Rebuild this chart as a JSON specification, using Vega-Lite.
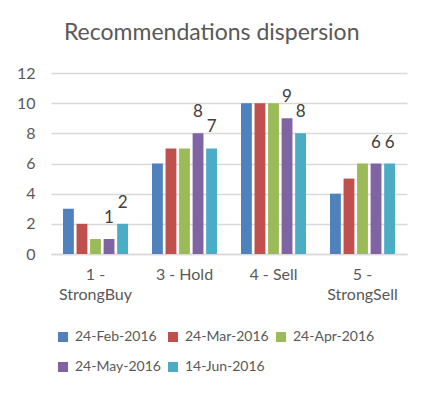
{
  "$schema": "https://vega.github.io/schema/vega-lite/v6.json",
  "width": 356,
  "height": 181,
  "autosize": {"type": "none"},
  "padding": {"left": 51, "top": 73, "right": 23, "bottom": 142},
  "background": "white",
  "title": {"text": "Recommendations dispersion", "fontSize": 23, "font": "Lato", "fontWeight": "normal", "color": "#595959", "offset": 20, "anchor": "middle", "frame": "bounds"},
  "data": {"values": [
    {"category": "1 - StrongBuy", "date": "24-Feb-2016", "value": 3},
    {"category": "1 - StrongBuy", "date": "24-Mar-2016", "value": 2},
    {"category": "1 - StrongBuy", "date": "24-Apr-2016", "value": 1},
    {"category": "1 - StrongBuy", "date": "24-May-2016", "value": 1},
    {"category": "1 - StrongBuy", "date": "14-Jun-2016", "value": 2},
    {"category": "3 - Hold", "date": "24-Feb-2016", "value": 6},
    {"category": "3 - Hold", "date": "24-Mar-2016", "value": 7},
    {"category": "3 - Hold", "date": "24-Apr-2016", "value": 7},
    {"category": "3 - Hold", "date": "24-May-2016", "value": 8},
    {"category": "3 - Hold", "date": "14-Jun-2016", "value": 7},
    {"category": "4 - Sell", "date": "24-Feb-2016", "value": 10},
    {"category": "4 - Sell", "date": "24-Mar-2016", "value": 10},
    {"category": "4 - Sell", "date": "24-Apr-2016", "value": 10},
    {"category": "4 - Sell", "date": "24-May-2016", "value": 9},
    {"category": "4 - Sell", "date": "14-Jun-2016", "value": 8},
    {"category": "5 - StrongSell", "date": "24-Feb-2016", "value": 4},
    {"category": "5 - StrongSell", "date": "24-Mar-2016", "value": 5},
    {"category": "5 - StrongSell", "date": "24-Apr-2016", "value": 6},
    {"category": "5 - StrongSell", "date": "24-May-2016", "value": 6},
    {"category": "5 - StrongSell", "date": "14-Jun-2016", "value": 6}
  ]},
  "encoding": {
    "x": {
      "field": "category", "type": "nominal", "sort": null,
      "scale": {"paddingInner": 0.27, "paddingOuter": 0.135},
      "axis": {
        "title": null, "labelAngle": 0, "ticks": false, "domain": true,
        "domainColor": "#D9D9D9", "domainWidth": 1.5, "labelPadding": 12,
        "labelFont": "Lato", "labelFontSize": 16, "labelColor": "#595959", "labelLineHeight": 20,
        "labelExpr": "test(/Strong/, datum.label) ? [substring(datum.label, 0, 3), substring(datum.label, 4)] : datum.label"
      }
    },
    "xOffset": {
      "field": "date", "type": "nominal",
      "scale": {"domain": ["24-Feb-2016", "24-Mar-2016", "24-Apr-2016", "24-May-2016", "14-Jun-2016"], "paddingInner": 0.2, "paddingOuter": 0}
    },
    "y": {
      "field": "value", "type": "quantitative",
      "scale": {"domain": [0, 12]},
      "axis": {
        "title": null, "values": [0, 2, 4, 6, 8, 10, 12], "domain": false, "ticks": false,
        "gridColor": "#D9D9D9", "gridWidth": 1.5, "labelPadding": 16,
        "labelFont": "Lato", "labelFontSize": 16, "labelColor": "#595959"
      }
    }
  },
  "layer": [
    {
      "mark": {"type": "bar"},
      "encoding": {
        "color": {
          "field": "date", "type": "nominal",
          "scale": {
            "domain": ["24-Feb-2016", "24-Mar-2016", "24-Apr-2016", "24-May-2016", "14-Jun-2016"],
            "range": ["#4F81BD", "#C0504D", "#9BBB59", "#8064A2", "#4BACC6"]
          },
          "legend": {
            "title": null, "orient": "bottom", "direction": "horizontal", "columns": 3,
            "symbolType": "square", "symbolSize": 100, "symbolStrokeWidth": 0,
            "labelFont": "Lato", "labelFontSize": 14, "labelColor": "#595959",
            "rowPadding": 16, "columnPadding": 5, "offset": 23, "padding": 5, "labelOffset": 5
          }
        }
      }
    },
    {
      "transform": [{"filter": "datum.date == '24-May-2016' || datum.date == '14-Jun-2016'"}],
      "mark": {"type": "text", "baseline": "bottom", "dy": -12, "font": "Lato", "fontSize": 17, "color": "#404040"},
      "encoding": {"text": {"field": "value", "type": "quantitative"}}
    }
  ],
  "config": {"view": {"stroke": null}}
}
